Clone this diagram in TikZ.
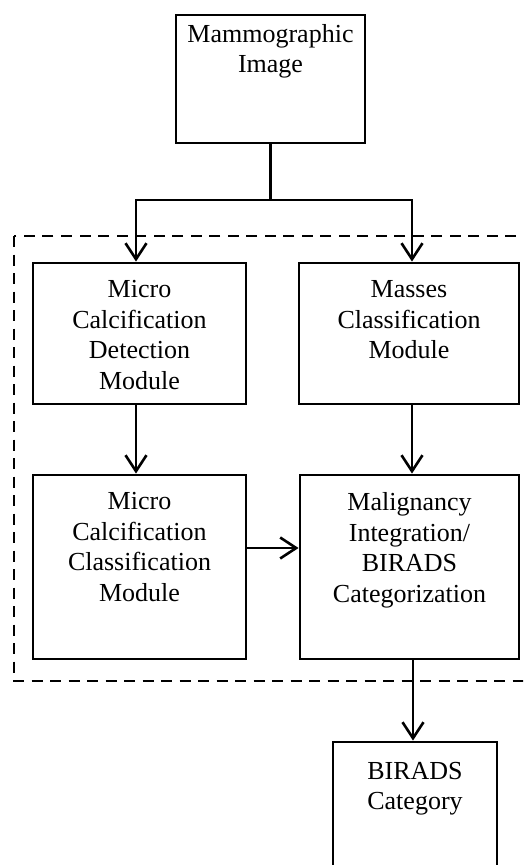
\documentclass[tikz,border=0pt]{standalone}
\usepackage{fontspec}
\setmainfont{Liberation Serif}
\usetikzlibrary{arrows.meta}
\begin{document}
\begin{tikzpicture}[x=1pt,y=-1pt,
  box/.style={draw, line width=2.9pt, rectangle, inner sep=0pt},
  lbl/.style={anchor=north, align=center, inner sep=0pt, font=\fontsize{26}{30.5}\selectfont},
  conn/.style={line width=2.6pt},
  arr/.style={line width=2.6pt, -{Straight Barb[length=16pt,width=21pt,line width=2.6pt]}},
  grp/.style={line width=2.9pt, dash pattern=on 11pt off 7.5pt}]
\clip (0,0) rectangle (523,865);
\useasboundingbox (0,0) rectangle (523,865);
\fill[white] (0,0) rectangle (523,865);
% boxes
\node[box, minimum width=189pt, minimum height=128pt] (img) at (270.5,79) {};
\node[box, minimum width=213pt, minimum height=141pt] (mcd) at (139.5,333.5) {};
\node[box, minimum width=220pt, minimum height=141pt] (mcm) at (409,333.5) {};
\node[box, minimum width=213pt, minimum height=184pt] (mcc) at (139.5,567) {};
\node[box, minimum width=219pt, minimum height=184pt] (mal) at (409.5,567) {};
\node[box, minimum width=164pt, minimum height=160pt] (bir) at (415,822) {};
% labels
\node[lbl] (timg) at (270.5,24) {Mammographic\\Image};
\node[lbl] (tmcd) at (139.5,280.5) {Micro\\Calcification\\Detection\\Module};
\node[lbl] (tmcm) at (409,280.5) {Masses\\Classification\\Module};
\node[lbl] (tmcc) at (139.5,492.5) {Micro\\Calcification\\Classification\\Module};
\node[lbl] (tmal) at (409.5,492.5) {Malignancy\\Integration/\\BIRADS\\Categorization};
\node[lbl] (tbir) at (415,762) {BIRADS\\Category};
% dashed group
\draw[grp] (14,236) rectangle (560,681);
% connectors
\coordinate (jl) at (136,200);
\coordinate (jr) at (412,200);
\coordinate (hy) at (0,548);
\coordinate (bx) at (413,0);
\draw[conn] (img.south) -- (img.south |- jl);
\draw[arr] (img.south |- jl) -| (jl |- mcd.north);
\draw[arr] (img.south |- jl) -| (jr |- mcm.north);
\draw[arr] (jl |- mcd.south) -- (jl |- mcc.north);
\draw[arr] (jr |- mcm.south) -- (jr |- mal.north);
\draw[arr] (mcc.east |- hy) -- (mal.west |- hy);
\draw[arr] (bx |- mal.south) -- (bx |- bir.north);
\end{tikzpicture}
\end{document}
